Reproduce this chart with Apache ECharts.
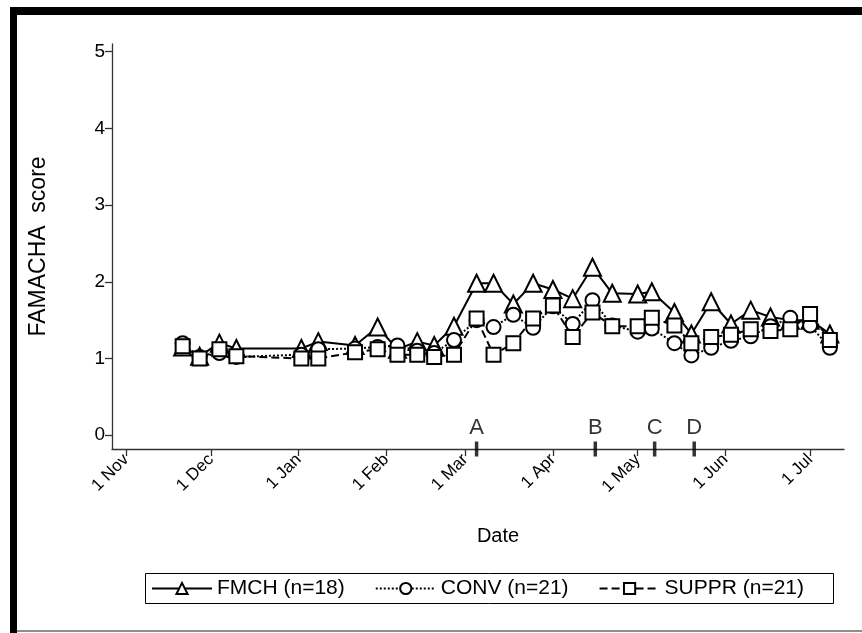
<!DOCTYPE html>
<html>
<head>
<meta charset="utf-8">
<script src="https://cdn.jsdelivr.net/npm/echarts@6/dist/echarts.min.js"></script>
<style>html,body{margin:0;padding:0;background:#fff}#c{width:862px;height:633px}</style>
</head>
<body>
<div id="c"></div>
<script>
// sampling dates (YYYY-MM-DD)
const dates = ['2006-11-21','2006-11-27','2006-12-04','2006-12-10','2007-01-02','2007-01-08','2007-01-21','2007-01-29',
  '2007-02-05','2007-02-12','2007-02-18','2007-02-25','2007-03-05','2007-03-11','2007-03-18','2007-03-25',
  '2007-04-01','2007-04-08','2007-04-15','2007-04-22','2007-05-01','2007-05-06','2007-05-14','2007-05-20',
  '2007-05-27','2007-06-03','2007-06-10','2007-06-17','2007-06-24','2007-07-01','2007-07-08'];
const fmch = [1.15,1.03,1.20,1.13,1.13,1.22,1.17,1.41,1.12,1.22,1.17,1.42,1.98,1.98,1.71,1.98,
  1.90,1.78,2.19,1.85,1.84,1.87,1.60,1.32,1.74,1.45,1.63,1.54,1.50,1.50,1.32];
const conv = [1.20,1.02,1.07,1.02,1.05,1.12,1.13,1.15,1.17,1.10,1.07,1.24,1.50,1.41,1.57,1.40,
  1.68,1.45,1.76,1.43,1.35,1.39,1.20,1.04,1.14,1.23,1.29,1.42,1.53,1.43,1.14];
const suppr = [1.16,1.00,1.12,1.03,1.00,1.00,1.08,1.12,1.05,1.05,1.02,1.05,1.52,1.05,1.20,1.52,
  1.69,1.28,1.60,1.42,1.42,1.53,1.43,1.20,1.28,1.31,1.38,1.36,1.38,1.58,1.24];
const seriesNames = ['FMCH (n=18)','CONV (n=21)','SUPPR (n=21)'];
const eventLabels = ['A','B','C','D'];
const eventDates = ['2007-03-05','2007-04-16','2007-05-07','2007-05-21'];
const monthTicks = ['2006-11-01','2006-12-01','2007-01-01','2007-02-01','2007-03-01','2007-04-01','2007-05-01','2007-06-01','2007-07-01'];
const monthNames = ['Jan','Feb','Mar','Apr','May','Jun','Jul','Aug','Sep','Oct','Nov','Dec'];
const yTicks = [0,1,2,3,4,5];

const ts = s => { const p = s.split('-').map(Number); return Date.UTC(p[0], p[1]-1, p[2]); };
const Y_MIN = -0.18, Y_MAX = 5.1;
const FONT = 'Liberation Sans, Arial, sans-serif';

function mk(vals){ return dates.map((d,i)=>[ts(d), vals[i]]); }
const baseSeries = (name, vals, symbol, size, type) => ({
  name, type:'line', data: mk(vals), symbol, symbolSize: size, showAllSymbol:true,
  lineStyle:{color:'#000', width:2, type},
  itemStyle:{color:'#fff', borderColor:'#000', borderWidth:2},
  emphasis:{disabled:true}, animation:false
});

const chart = echarts.init(document.getElementById('c'), null, {renderer:'canvas'});
chart.setOption({
  backgroundColor:'#fff',
  animation:false,
  textStyle:{fontFamily:FONT},
  grid:{left:112, right:18, top:44, bottom:184},
  xAxis:{
    type:'value', min: ts('2006-10-27'), max: ts('2007-07-13'),
    axisLine:{onZero:false, lineStyle:{color:'#333', width:1.3}},
    axisTick:{customValues: monthTicks.map(ts), length:7, lineStyle:{color:'#333', width:1.3}},
    axisLabel:{customValues: monthTicks.map(ts), rotate:45, fontSize:17, color:'#000', margin:8, fontFamily:FONT,
      formatter: v => '1 ' + monthNames[new Date(v).getUTCMonth()]},
    splitLine:{show:false}
  },
  yAxis:{
    type:'value', min:Y_MIN, max:Y_MAX,
    name:'FAMACHA  score', nameLocation:'middle', nameGap:62, nameRotate:90,
    nameTextStyle:{fontSize:23, color:'#000', fontFamily:FONT},
    axisLine:{show:true, onZero:false, lineStyle:{color:'#333', width:1.3}},
    axisTick:{show:true, customValues:yTicks, length:7, lineStyle:{color:'#333', width:1.3}},
    axisLabel:{customValues:yTicks, fontSize:19, color:'#000', margin:7, fontFamily:FONT},
    splitLine:{show:false}
  },
  legend:{
    data: seriesNames, left:151, top:575, orient:'horizontal',
    itemWidth:60, itemHeight:14, itemGap:30,
    padding:[3,0,3,0],
    textStyle:{fontSize:21, color:'#000', fontFamily:FONT},
    selectedMode:false
  },
  series:[
    baseSeries(seriesNames[0], fmch, 'triangle', 17, 'solid'),
    baseSeries(seriesNames[1], conv, 'circle', 14, 'dotted'),
    baseSeries(seriesNames[2], suppr, 'rect', 14, 'dashed'),
    {
      type:'scatter', clip:false, animation:false, silent:true,
      data: eventDates.map((d,i)=>({name:eventLabels[i], value:[ts(d), Y_MIN]})),
      symbol:'rect', symbolSize:[3.5,15], itemStyle:{color:'#000'},
      label:{show:true, position:'top', distance:3, formatter: p => p.name, fontSize:22, color:'#000', fontFamily:FONT},
      z:5
    }
  ],
  graphic:[
    {type:'rect', shape:{x:10, y:7, width:852, height:8}, style:{fill:'#000'}, silent:true},
    {type:'rect', shape:{x:10, y:7, width:7, height:626}, style:{fill:'#000'}, silent:true},
    {type:'rect', shape:{x:17, y:630, width:845, height:2}, style:{fill:'#8a8f8c'}, silent:true},
    {type:'rect', shape:{x:145.5, y:573.5, width:688, height:30}, style:{fill:'none', stroke:'#000', lineWidth:1}, silent:true},
    {type:'text', x:498, y:536, style:{text:'Date', font:'20px Liberation Sans, Arial, sans-serif', fill:'#000', align:'center', verticalAlign:'middle'}, silent:true}
  ]
});
</script>
</body>
</html>
